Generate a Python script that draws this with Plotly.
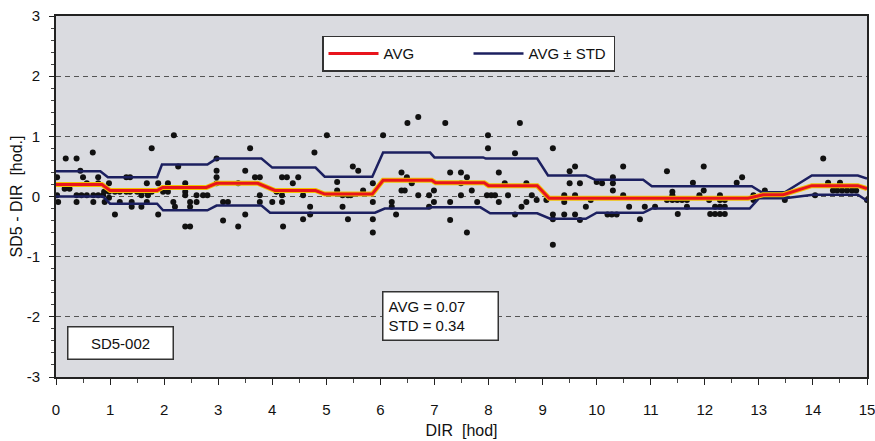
import plotly.graph_objects as go

# Scatter points: DIR [hod] vs SD5 - DIR [hod.]
DIR_X = [0.02, 0.02, 0.04, 0.18, 0.16, 0.25, 0.38, 0.45, 0.50, 0.38, 0.38, 0.47, 0.57, 0.57, 0.68,
         0.69, 0.69, 0.78, 0.78, 0.78, 0.87, 0.89, 0.90, 0.98, 0.98, 0.98, 1.09, 1.09, 1.18, 1.18,
         1.30, 1.37, 1.30, 1.37, 1.40, 1.40, 1.50, 1.58, 1.58, 1.68, 1.68, 1.70, 1.68, 1.77, 1.77,
         1.89, 1.89, 1.98, 2.07, 2.07, 2.17, 2.20, 2.18, 2.26, 2.39, 2.39, 2.39, 2.39, 2.48, 2.48,
         2.48, 2.60, 2.60, 2.72, 2.80, 2.97, 2.97, 2.97, 2.97,
         3.09, 3.18, 3.09, 3.37, 3.37, 3.50, 3.50, 3.59, 3.68, 3.77, 3.77, 3.77, 4.00, 4.08, 4.18,
         4.27, 4.18, 4.18, 4.20, 4.38, 4.48, 4.57, 4.57, 4.70, 4.70, 4.78, 5.01, 5.20, 5.20, 5.30,
         5.30, 5.40, 5.45, 5.40, 5.49, 5.59, 5.68, 5.86, 5.86, 5.86, 5.86, 6.05,
         6.21, 6.21, 6.29, 6.39, 6.39, 6.45, 6.49, 6.50, 6.58, 6.70, 6.70, 6.90, 6.90, 6.99, 6.99,
         7.20, 7.29, 7.29, 7.29, 7.49, 7.49, 7.49, 7.60, 7.60, 7.69, 7.79, 7.99, 7.99, 7.97, 8.05,
         8.12, 8.19, 8.19, 8.30, 8.36, 8.49, 8.49, 8.58, 8.61, 8.70, 8.70, 8.80, 8.89, 9.07,
         9.19, 9.19, 9.19, 9.19, 9.40, 9.40, 9.40, 9.50, 9.50, 9.60, 9.60, 9.60, 9.69, 9.69, 9.80,
         9.89, 10.00, 10.10, 10.20, 10.30, 10.30, 10.30, 10.28, 10.37, 10.49, 10.49, 10.60, 10.80,
         10.89, 11.08, 11.30, 11.30, 11.40, 11.49, 11.58, 11.67, 11.40, 11.40, 11.50, 11.67, 11.78,
         11.90, 11.98, 11.98, 12.10,
         12.08, 12.19, 12.19, 12.28, 12.28, 12.28, 12.28, 12.37, 12.37, 12.37, 12.59, 12.69, 12.90,
         12.90, 13.11, 13.11, 13.24, 13.33, 13.48, 14.04, 14.19, 14.28, 14.37, 14.45, 14.54, 14.63,
         14.72, 14.80, 14.50, 15.00]
DIFF_Y = [0.32, 0.02, -0.09, 0.63, 0.13, 0.13, 0.63, 0.43, 0.32, 0.02, -0.09, 0.02, 0.02, 0.22, 0.73,
          0.02, -0.09, 0.32, 0.22, 0.02, 0.02, 0.08, -0.09, 0.22, 0.08, -0.02, -0.30, 0.08, 0.08, -0.09,
          0.32, 0.32, 0.08, 0.08, -0.09, -0.17, 0.08, 0.02, -0.17, 0.22, 0.08, 0.02, -0.09, 0.80, 0.08,
          0.22, -0.30, 0.08, 0.22, 0.08, -0.09, -0.17, 1.02, 0.50, 0.22, 0.08, 0.02, -0.50, -0.50, -0.09,
          -0.17, 0.02, -0.09, 0.02, 0.02, 0.63, 0.22, 0.43, 0.32,
          -0.09, -0.09, -0.40, 0.22, -0.50, 0.43, -0.30, 0.80, 0.32, 0.32, 0.02, -0.09, -0.09, 0.08, 0.32,
          0.32, 0.02, -0.09, -0.50, 0.22, 0.32, 0.02, -0.38, -0.17, -0.30, 0.73, 1.02, 0.24, 0.10, 0.02,
          -0.17, 0.02, 0.02, -0.38, 0.50, 0.43, 0.10, 0.22, -0.09, -0.38, -0.60, 1.02,
          -0.09, -0.17, -0.30, 0.40, 0.10, 0.10, 0.32, 1.22, 0.22, 1.32, 0.02, 0.02, -0.17, 0.10, -0.09,
          1.22, 0.40, -0.09, -0.39, 0.40, 0.22, 0.02, 0.32, -0.60, 0.10, -0.09, 1.02, 0.80, 0.02, 0.02,
          0.02, 0.40, -0.09, 0.22, 0.02, 0.72, -0.30, 1.22, -0.17, 0.22, -0.09, 0.02, -0.06, -0.06,
          0.80, -0.30, -0.38, -0.80, 0.02, -0.09, -0.30, 0.42, 0.22, 0.50, 0.02, -0.30, 0.22, -0.39, -0.17,
          -0.06, 0.24, 0.22, -0.30, 0.32, 0.22, 0.10, -0.30, -0.30, 0.50, 0.02, -0.17, -0.38,
          -0.17, -0.17, 0.42, -0.06, -0.06, -0.06, -0.06, -0.06, 0.02, 0.08, -0.29, -0.17, 0.23,
          0.02, 0.50, 0.10, -0.29,
          -0.06, -0.17, -0.29, 0.02, -0.06, -0.17, -0.29, -0.06, -0.17, -0.29, 0.23, 0.32, 0.02,
          -0.06, 0.10, 0.02, 0.02, 0.02, -0.06, 0.02, 0.63, 0.23, 0.10, 0.10, 0.10, 0.10,
          0.10, 0.10, 0.23, -0.06]

# Moving average line and AVG +/- STD envelope
AVG_X = [0, 0.85, 1.0, 1.87, 1.97, 2.78, 2.97, 3.73, 4.05, 4.8, 4.97, 5.85, 6.05, 6.95, 7.02,
         7.92, 8.0, 8.9, 9.12, 12.8, 13.08, 13.45, 13.98, 14.83, 15]
AVG_Y = [0.2, 0.2, 0.1, 0.1, 0.15, 0.15, 0.22, 0.22, 0.1, 0.1, 0.04, 0.04, 0.27, 0.27, 0.23,
         0.23, 0.18, 0.18, -0.03, -0.03, 0.03, 0.03, 0.18, 0.18, 0.13]

UP_X = [0, 0.82, 0.96, 1.87, 1.96, 2.8, 2.97, 3.8, 4.0, 4.8, 4.97, 5.85, 6.05, 6.92, 7.0, 7.9,
        7.95, 8.9, 9.1, 9.8, 9.97, 10.86, 11.02, 12.87, 13.05, 13.48, 13.98, 14.83, 15]
UP_Y = [0.42, 0.42, 0.32, 0.32, 0.53, 0.53, 0.63, 0.63, 0.48, 0.48, 0.33, 0.33, 0.73, 0.73, 0.65,
        0.65, 0.63, 0.63, 0.35, 0.35, 0.28, 0.28, 0.17, 0.17, 0.07, 0.07, 0.35, 0.35, 0.3]

LO_X = [0, 0.87, 1.0, 1.87, 1.98, 2.8, 2.97, 3.8, 3.96, 5.9, 6.08, 6.86, 6.95, 7.85, 8.03, 8.9,
        9.14, 9.8, 10.0, 10.86, 11.02, 12.83, 13.0, 13.48, 14.0, 14.83, 15]
LO_Y = [0.0, 0.0, -0.12, -0.12, -0.23, -0.23, -0.15, -0.15, -0.27, -0.27, -0.2, -0.2, -0.18, -0.18,
        -0.28, -0.28, -0.37, -0.37, -0.27, -0.27, -0.2, -0.2, -0.03, -0.03, 0.03, 0.03, -0.07]

X_TICKS = list(range(0, 16))
Y_TICKS = [-3, -2, -1, 0, 1, 2, 3]

NAVY = "#1c2060"
RED = "#e8141c"
GOLD = "#f2c200"
FONT = "Liberation Sans, Arial, sans-serif"

fig = go.Figure()

fig.add_trace(go.Scatter(x=DIR_X, y=DIFF_Y, mode="markers",
                         marker=dict(color="#111111", size=6),
                         showlegend=False, hoverinfo="skip"))

fig.add_trace(go.Scatter(x=UP_X, y=UP_Y, mode="lines", name="AVG ± STD",
                         line=dict(color=NAVY, width=2.5), legendgroup="std",
                         legendrank=2))
fig.add_trace(go.Scatter(x=LO_X, y=LO_Y, mode="lines", name="AVG ± STD",
                         line=dict(color=NAVY, width=2.5), legendgroup="std",
                         showlegend=False))

fig.add_trace(go.Scatter(x=AVG_X, y=AVG_Y, mode="lines", name="AVG_halo",
                         line=dict(color=GOLD, width=5), showlegend=False,
                         hoverinfo="skip"))
fig.add_trace(go.Scatter(x=AVG_X, y=AVG_Y, mode="lines", name="AVG",
                         line=dict(color=RED, width=3), legendrank=1))

fig.add_annotation(x=7.12, y=-1.99, xref="x", yref="y",
                   text="AVG = 0.07<br>STD = 0.34", showarrow=False,
                   font=dict(family=FONT, size=15, color="#111"),
                   bgcolor="white", bordercolor="#333", borderwidth=1.5,
                   borderpad=5, align="left", width=104)
fig.add_annotation(x=1.2, y=-2.43, xref="x", yref="y",
                   text="SD5-002", showarrow=False,
                   font=dict(family=FONT, size=15, color="#111"),
                   bgcolor="white", bordercolor="#333", borderwidth=1.5,
                   borderpad=7, width=90)

fig.update_layout(
    width=875, height=441,
    margin=dict(l=56, r=8, t=16, b=64),
    paper_bgcolor="white",
    plot_bgcolor="#dadbe0",
    font=dict(family=FONT, size=15, color="#111"),
    legend=dict(orientation="h", x=0.328, y=0.945, xanchor="left", yanchor="top",
                bgcolor="white", bordercolor="#333", borderwidth=1.5,
                font=dict(family=FONT, size=15, color="#111"),
                itemwidth=50, entrywidth=80, entrywidthmode="pixels",
                traceorder="normal"),
)

fig.update_xaxes(range=[0, 15], tickvals=X_TICKS, ticktext=[str(v) for v in X_TICKS],
                 automargin=False, ticklabeloverflow="allow",
                 showgrid=False, zeroline=False,
                 showline=True, linecolor="#222", linewidth=2, mirror=True,
                 ticks="outside", ticklen=6, tickwidth=1, tickcolor="#222",
                 minor=dict(dtick=0.5, tick0=0, ticks="outside", ticklen=4, tickcolor="#444",
                            showgrid=False),
                 ticklabelstandoff=12,
                 tickfont=dict(family=FONT, size=15, color="#111"),
                 title=dict(text="DIR  [hod]", standoff=8,
                            font=dict(family=FONT, size=16, color="#111")))

fig.update_yaxes(range=[-3, 3], tickvals=Y_TICKS, ticktext=[str(v) for v in Y_TICKS],
                 automargin=False, ticklabeloverflow="allow",
                 showgrid=True, gridcolor="#555", griddash="5px,4px", gridwidth=1,
                 zeroline=False,
                 showline=True, linecolor="#222", linewidth=2, mirror=True,
                 ticks="outside", ticklen=5, tickwidth=1, tickcolor="#222",
                 minor=dict(dtick=0.2, tick0=0, ticks="outside", ticklen=3, tickcolor="#444",
                            showgrid=False),
                 ticklabelstandoff=6,
                 tickfont=dict(family=FONT, size=15, color="#111"),
                 title=dict(text="SD5 - DIR  [hod.]", standoff=0,
                            font=dict(family=FONT, size=16, color="#111")))

fig.write_html("out.html", config={"displayModeBar": False},
               post_script="document.body.style.margin='0px';")
